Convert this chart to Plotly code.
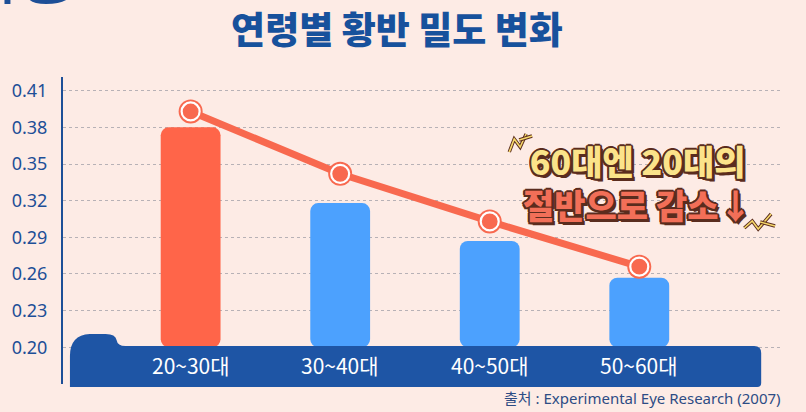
import plotly.graph_objects as go

# ---------------- data ----------------
categories = ["20~30대", "30~40대", "40~50대", "50~60대"]
bar_values = [0.380, 0.318, 0.287, 0.257]
line_values = [0.393, 0.342, 0.303, 0.266]
y_ticks = [0.20, 0.23, 0.26, 0.29, 0.32, 0.35, 0.38, 0.41]
y_tick_labels = ["0.20", "0.23", "0.26", "0.29", "0.32", "0.35", "0.38", "0.41"]
bar_base = 0.20

title_text = "연령별 황반 밀도 변화"
callout_line1 = "60대엔 20대의"
callout_line2 = "절반으로 감소↓"
source_text = "출처 : Experimental Eye Research (2007)"

# ---------------- style ----------------
BG = "#FDEBE5"
NAVY = "#1D4F97"
CORAL = "#FF6549"
LINE_CORAL = "#F8694F"
BLUE = "#4CA1FE"
BAND = "#1E55A5"
OUTLINE = "#5A2C1E"

W, H = 806, 412
L, R, T, B = 57, 783, 77, 384


def pxx(x):
    return (x - L) / (R - L)


def pxy(y):
    return (B - y) / (B - T)


bar_colors = [CORAL] + [BLUE] * (len(categories) - 1)

fig = go.Figure()

fig.add_trace(go.Bar(
    x=categories,
    y=[v - bar_base for v in bar_values],
    base=bar_base,
    width=0.4,
    marker=dict(color=bar_colors, line=dict(width=0)),
    hoverinfo="skip",
    showlegend=False,
))

fig.add_trace(go.Scatter(
    x=categories, y=line_values, mode="lines",
    line=dict(color=LINE_CORAL, width=7),
    showlegend=False, hoverinfo="skip",
))
fig.add_trace(go.Scatter(
    x=categories, y=line_values, mode="markers",
    marker=dict(size=24, color=LINE_CORAL, line=dict(width=0)),
    showlegend=False, hoverinfo="skip",
))
fig.add_trace(go.Scatter(
    x=categories, y=line_values, mode="markers",
    marker=dict(size=18, color=LINE_CORAL, line=dict(width=2.2, color="white")),
    showlegend=False, hoverinfo="skip",
))

shapes = []

# bottom band with the wave bump at the left
band_path = (
    f"M {pxx(64)},{pxy(387)} L {pxx(64)},{pxy(356)} "
    f"Q {pxx(64)},{pxy(335)} {pxx(84)},{pxy(334)} "
    f"L {pxx(100)},{pxy(334)} "
    f"Q {pxx(110)},{pxy(334)} {pxx(111)},{pxy(340)} "
    f"Q {pxx(112)},{pxy(346)} {pxx(120)},{pxy(346)} "
    f"L {pxx(754)},{pxy(346)} "
    f"Q {pxx(761)},{pxy(346)} {pxx(761)},{pxy(353)} "
    f"L {pxx(761)},{pxy(383)} "
    f"Q {pxx(761)},{pxy(387)} {pxx(757)},{pxy(387)} Z"
)
shapes.append(dict(type="path", path=band_path, xref="paper", yref="paper",
                   fillcolor=BAND, line=dict(width=0), layer="above"))

# background patch behind the callout text (hides grid lines)
shapes.append(dict(type="rect", xref="paper", yref="paper",
                   x0=pxx(500), x1=pxx(790), y0=pxy(229), y1=pxy(135),
                   fillcolor=BG, line=dict(width=0), layer="between"))

# little sparks around the callout
for pts in (
    [(507, 152), (512, 139), (518, 147), (524, 134)],
    [(517, 140), (530, 136)],
    [(744, 228), (752, 221), (758, 229), (771, 214)],
    [(760, 222), (775, 226)],
):
    d = "M " + " L ".join(f"{pxx(a)},{pxy(b)}" for a, b in pts)
    shapes.append(dict(type="path", path=d, xref="paper", yref="paper",
                       line=dict(color=OUTLINE, width=3.5), layer="above"))
    shapes.append(dict(type="path", path=d, xref="paper", yref="paper",
                       line=dict(color="#F6D86A", width=1.6), layer="above"))

# top-left decorative fragment
shapes.append(dict(type="path", xref="paper", yref="paper",
                   path=(f"M {pxx(22)},{pxy(-2)} L {pxx(63)},{pxy(-2)} "
                         f"Q {pxx(56)},{pxy(4)} {pxx(40)},{pxy(4)} "
                         f"Q {pxx(25)},{pxy(4)} {pxx(22)},{pxy(-2)} Z"),
                   fillcolor=NAVY, line=dict(width=0), layer="above"))
shapes.append(dict(type="rect", xref="paper", yref="paper",
                   x0=pxx(-2), x1=pxx(4), y0=pxy(4), y1=pxy(-2),
                   fillcolor=NAVY, line=dict(width=0), layer="above"))

annotations = []
for c in categories:
    annotations.append(dict(
        x=c, xref="x", y=pxy(365), yref="paper", text=c, showarrow=False,
        font=dict(family="Noto Sans CJK KR, Noto Sans", size=21, color="white"),
        xanchor="center", yanchor="middle",
    ))

shadow = ", ".join([
    f"2px 0 0 {OUTLINE}", f"-2px 0 0 {OUTLINE}", f"0 2px 0 {OUTLINE}", f"0 -2px 0 {OUTLINE}",
    f"1.5px 1.5px 0 {OUTLINE}", f"-1.5px -1.5px 0 {OUTLINE}",
    f"1.5px -1.5px 0 {OUTLINE}", f"-1.5px 1.5px 0 {OUTLINE}",
    f"3px 3px 0 {OUTLINE}",
])
callout = (f"<span style='color:#FBE38A'>{callout_line1}</span><br>"
           f"<span style='color:#F26F58'>{callout_line2}</span>")
annotations.append(dict(
    x=pxx(636), y=pxy(182), xref="paper", yref="paper", text=callout,
    showarrow=False, xanchor="center", yanchor="middle", align="center",
    font=dict(family="Noto Sans CJK KR", size=34, weight=900, color="#FBE38A", shadow=shadow),
))
annotations.append(dict(
    x=pxx(783), y=pxy(398), xref="paper", yref="paper", text=source_text,
    showarrow=False, xanchor="right", yanchor="middle",
    font=dict(family="Noto Sans, Noto Sans CJK KR", size=15, color="#2D4C84"),
))

fig.update_layout(
    width=W, height=H,
    margin=dict(l=L, r=W - R, t=T, b=H - B, pad=0),
    paper_bgcolor=BG, plot_bgcolor=BG,
    barcornerradius=8,
    showlegend=False,
    title=dict(
        text=title_text, xref="container", yref="container",
        x=397 / W, y=1 - 31 / H, xanchor="center", yanchor="middle",
        font=dict(family="Noto Sans CJK KR", size=37, weight=900, color="#17519C"),
    ),
    xaxis=dict(
        type="category", range=[-0.8534, 3.961],
        showticklabels=False, showgrid=False, zeroline=False, showline=False,
        fixedrange=True,
    ),
    yaxis=dict(
        range=[0.16997, 0.42121],
        tickvals=y_ticks, ticktext=y_tick_labels,
        showgrid=True, gridcolor="#B7B1B6", griddash="dot", gridwidth=1.3,
        zeroline=False, showline=True, linecolor=NAVY, linewidth=2,
        ticks="", ticklabelstandoff=10,
        tickfont=dict(family="Noto Sans", size=18, color=NAVY),
        fixedrange=True,
    ),
    shapes=shapes,
    annotations=annotations,
)

fig.write_html(
    "out.html",
    config={"displayModeBar": False},
    post_script="document.body.style.margin='0';document.body.style.overflow='hidden';",
)
